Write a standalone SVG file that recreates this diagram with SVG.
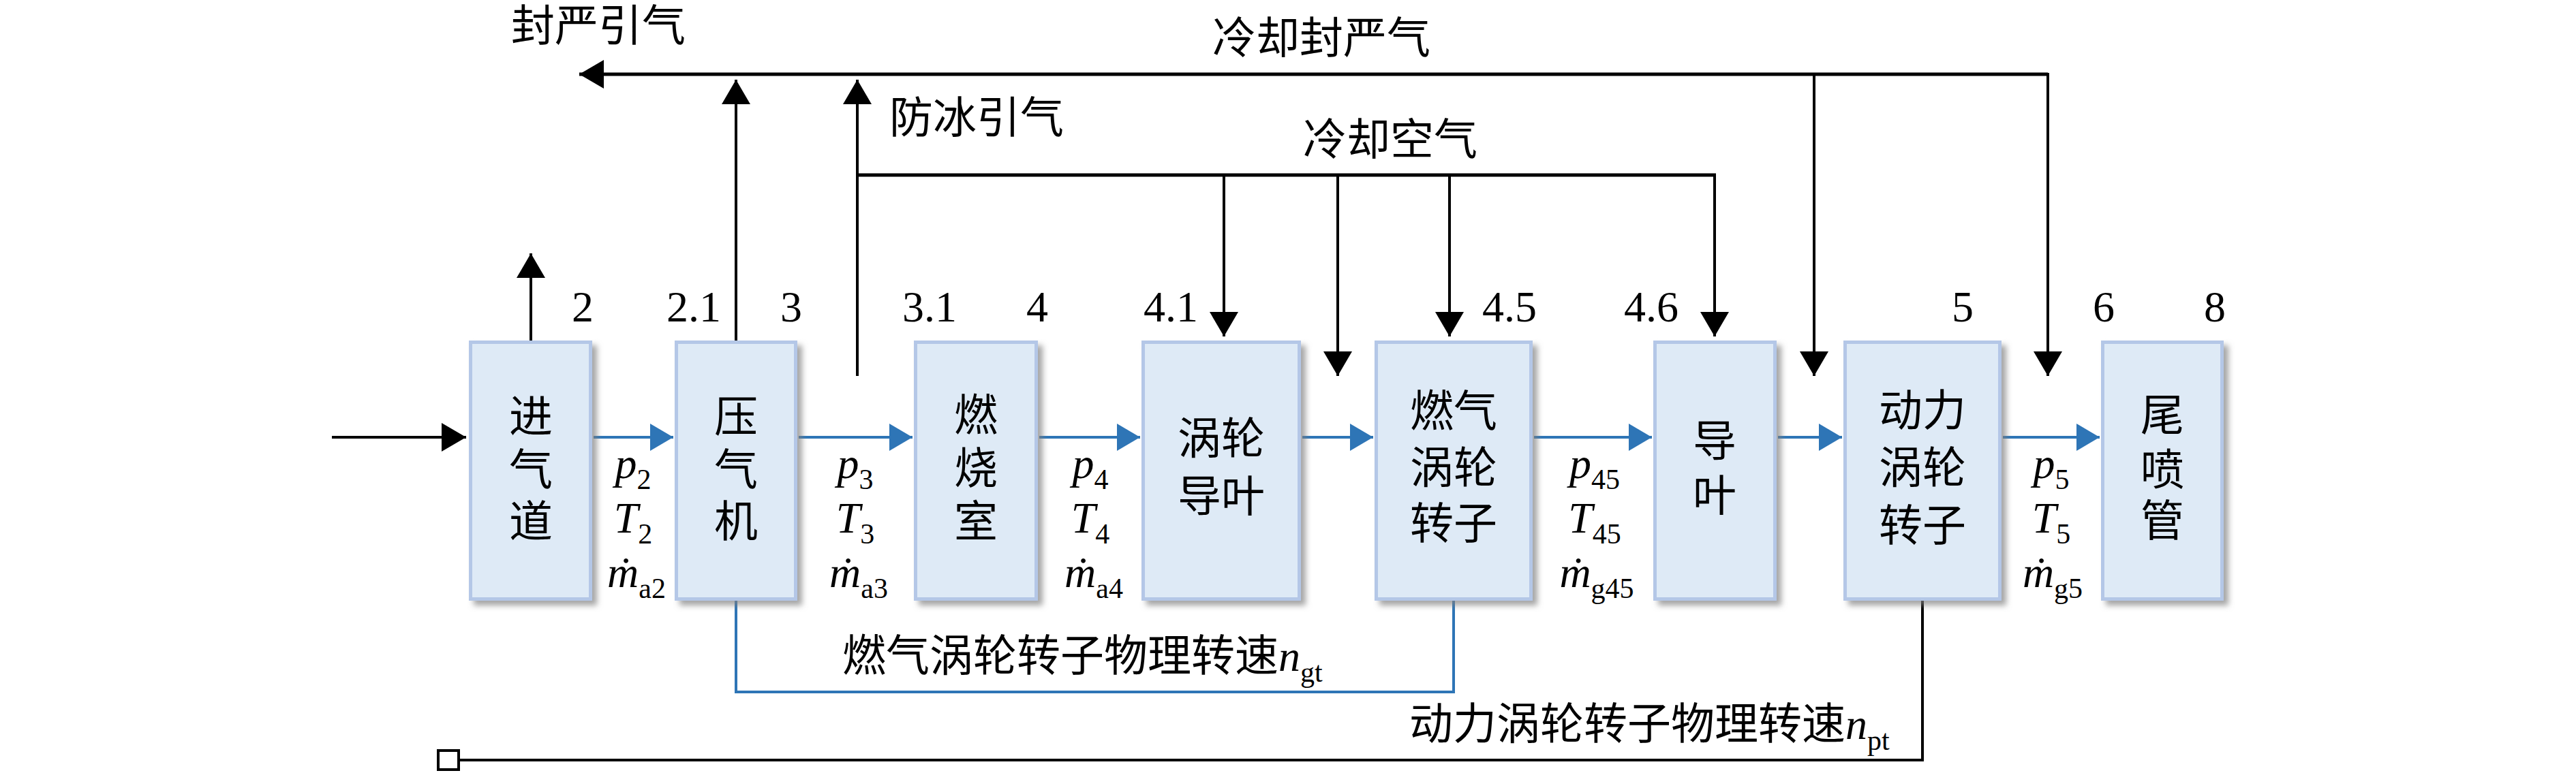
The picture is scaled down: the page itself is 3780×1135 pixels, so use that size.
<svg xmlns="http://www.w3.org/2000/svg" width="3780" height="1135" viewBox="0 0 3780 1135">
<style>
.box{fill:#DEEAF6;stroke:#B4C7E7;stroke-width:5;filter:url(#sh)}
.cj{font-family:"Liberation Serif","Noto Sans CJK SC",serif;font-size:64px;fill:#000}
.num{font-family:"Liberation Serif",serif;font-size:64px;fill:#000;text-anchor:middle}
.mid{text-anchor:middle}
.it{font-style:italic}
.sub{font-size:42px}
.bk{stroke:#000;stroke-width:4;fill:none}
.bl{stroke:#2E75B6;stroke-width:4;fill:none}
</style>
<defs>
<filter id="sh" x="-10%" y="-10%" width="130%" height="130%">
<feDropShadow dx="7" dy="7" stdDeviation="4" flood-color="#7f7f7f" flood-opacity="0.7"/>
</filter>
<marker id="ak" markerUnits="userSpaceOnUse" markerWidth="40" markerHeight="44" refX="36" refY="21" orient="auto">
<path d="M0,0 L36,21 L0,42 z" fill="#000"/>
</marker>
<marker id="ab" markerUnits="userSpaceOnUse" markerWidth="38" markerHeight="42" refX="34" refY="20" orient="auto">
<path d="M0,0 L34,20 L0,40 z" fill="#2E75B6"/>
</marker>
</defs>
<rect width="3780" height="1135" fill="#fff"/>

<g id="connectors">
<line class="bk" x1="487" y1="642" x2="684" y2="642" marker-end="url(#ak)"/>
<line class="bk" x1="779" y1="500" x2="779" y2="372" marker-end="url(#ak)"/>
<line class="bk" x1="1080" y1="500" x2="1080" y2="117" marker-end="url(#ak)"/>
<line class="bk" x1="1258" y1="552" x2="1258" y2="117" marker-end="url(#ak)"/>
<line class="bk" style="stroke-width:5" x1="3005" y1="109" x2="850" y2="109" marker-end="url(#ak)"/>
<line class="bk" x1="2662" y1="109" x2="2662" y2="552" marker-end="url(#ak)"/>
<line class="bk" x1="3005" y1="107" x2="3005" y2="552" marker-end="url(#ak)"/>
<line class="bk" style="stroke-width:5" x1="1256" y1="257" x2="2518" y2="257"/>
<line class="bk" x1="1796" y1="257" x2="1796" y2="494" marker-end="url(#ak)"/>
<line class="bk" x1="1963" y1="257" x2="1963" y2="552" marker-end="url(#ak)"/>
<line class="bk" x1="2127" y1="257" x2="2127" y2="494" marker-end="url(#ak)"/>
<line class="bk" x1="2516" y1="255" x2="2516" y2="494" marker-end="url(#ak)"/>
<line class="bl" x1="871" y1="642" x2="988" y2="642" marker-end="url(#ab)"/>
<line class="bl" x1="1172" y1="642" x2="1339" y2="642" marker-end="url(#ab)"/>
<line class="bl" x1="1525" y1="642" x2="1673" y2="642" marker-end="url(#ab)"/>
<line class="bl" x1="1911" y1="642" x2="2015" y2="642" marker-end="url(#ab)"/>
<line class="bl" x1="2251" y1="642" x2="2424" y2="642" marker-end="url(#ab)"/>
<line class="bl" x1="2609" y1="642" x2="2703" y2="642" marker-end="url(#ab)"/>
<line class="bl" x1="2939" y1="642" x2="3081" y2="642" marker-end="url(#ab)"/>
<polyline class="bl" points="1080,882 1080,1016 2133,1016 2133,882"/>
<polyline class="bk" points="2821,882 2821,1116 675,1116"/>
<rect x="643" y="1102" width="30" height="28" fill="#fff" stroke="#000" stroke-width="4"/>
</g>

<g id="inlet"><rect class="box" x="690.5" y="502.5" width="176" height="377"/>
<text class="cj mid" x="779" y="634">进</text><text class="cj mid" x="779" y="712">气</text><text class="cj mid" x="779" y="788">道</text></g>
<g id="compressor"><rect class="box" x="992.5" y="502.5" width="175" height="377"/>
<text class="cj mid" x="1080" y="634">压</text><text class="cj mid" x="1080" y="712">气</text><text class="cj mid" x="1080" y="788">机</text></g>
<g id="combustor"><rect class="box" x="1343.5" y="502.5" width="177" height="377"/>
<text class="cj mid" x="1432" y="632">燃</text><text class="cj mid" x="1432" y="710">烧</text><text class="cj mid" x="1432" y="788">室</text></g>
<g id="ngv"><rect class="box" x="1677.5" y="502.5" width="229" height="377"/>
<text class="cj mid" x="1792" y="666">涡轮</text><text class="cj mid" x="1792" y="751">导叶</text></g>
<g id="gt-rotor"><rect class="box" x="2019.5" y="502.5" width="227" height="377"/>
<text class="cj mid" x="2133" y="626">燃气</text><text class="cj mid" x="2133" y="709">涡轮</text><text class="cj mid" x="2133" y="791">转子</text></g>
<g id="vane"><rect class="box" x="2428.5" y="502.5" width="176" height="377"/>
<text class="cj mid" x="2516" y="670">导</text><text class="cj mid" x="2516" y="750">叶</text></g>
<g id="pt-rotor"><rect class="box" x="2707.5" y="502.5" width="227" height="377"/>
<text class="cj mid" x="2821" y="625">动力</text><text class="cj mid" x="2821" y="709">涡轮</text><text class="cj mid" x="2821" y="794">转子</text></g>
<g id="nozzle"><rect class="box" x="3085.5" y="502.5" width="175" height="377"/>
<text class="cj mid" x="3173" y="632">尾</text><text class="cj mid" x="3173" y="712">喷</text><text class="cj mid" x="3173" y="787">管</text></g>

<g id="station-labels">
<text class="num" x="855" y="472">2</text>
<text class="num" x="1018" y="472">2.1</text>
<text class="num" x="1161" y="472">3</text>
<text class="num" x="1364" y="472">3.1</text>
<text class="num" x="1522" y="472">4</text>
<text class="num" x="1718" y="472">4.1</text>
<text class="num" x="2215" y="472">4.5</text>
<text class="num" x="2423" y="472">4.6</text>
<text class="num" x="2880" y="472">5</text>
<text class="num" x="3087" y="472">6</text>
<text class="num" x="3250" y="472">8</text>
</g>

<g id="flow-labels" class="num">
<text x="929" y="702"><tspan class="it">p</tspan><tspan class="sub" dy="16">2</tspan></text>
<text x="929" y="782"><tspan class="it">T</tspan><tspan class="sub" dy="16">2</tspan></text>
<text x="934" y="862"><tspan class="it">ṁ</tspan><tspan class="sub" dy="16">a2</tspan></text>
<text x="1255" y="702"><tspan class="it">p</tspan><tspan class="sub" dy="16">3</tspan></text>
<text x="1255" y="782"><tspan class="it">T</tspan><tspan class="sub" dy="16">3</tspan></text>
<text x="1260" y="862"><tspan class="it">ṁ</tspan><tspan class="sub" dy="16">a3</tspan></text>
<text x="1600" y="702"><tspan class="it">p</tspan><tspan class="sub" dy="16">4</tspan></text>
<text x="1600" y="782"><tspan class="it">T</tspan><tspan class="sub" dy="16">4</tspan></text>
<text x="1605" y="862"><tspan class="it">ṁ</tspan><tspan class="sub" dy="16">a4</tspan></text>
<text x="2340" y="702"><tspan class="it">p</tspan><tspan class="sub" dy="16">45</tspan></text>
<text x="2340" y="782"><tspan class="it">T</tspan><tspan class="sub" dy="16">45</tspan></text>
<text x="2343" y="862"><tspan class="it">ṁ</tspan><tspan class="sub" dy="16">g45</tspan></text>
<text x="3010" y="702"><tspan class="it">p</tspan><tspan class="sub" dy="16">5</tspan></text>
<text x="3010" y="782"><tspan class="it">T</tspan><tspan class="sub" dy="16">5</tspan></text>
<text x="3012" y="862"><tspan class="it">ṁ</tspan><tspan class="sub" dy="16">g5</tspan></text>
</g>

<g id="annotations">
<text class="cj" x="750" y="60">封严引气</text>
<text class="cj" x="1779" y="78">冷却封严气</text>
<text class="cj" x="1305" y="195">防冰引气</text>
<text class="cj" x="1912" y="227">冷却空气</text>
<text class="cj" x="1236" y="985">燃气涡轮转子物理转速<tspan class="it" font-family="Liberation Serif">n</tspan><tspan class="sub" font-family="Liberation Serif" dy="16">gt</tspan></text>
<text class="cj" x="2068" y="1085">动力涡轮转子物理转速<tspan class="it" font-family="Liberation Serif">n</tspan><tspan class="sub" font-family="Liberation Serif" dy="16">pt</tspan></text>
</g>
</svg>
